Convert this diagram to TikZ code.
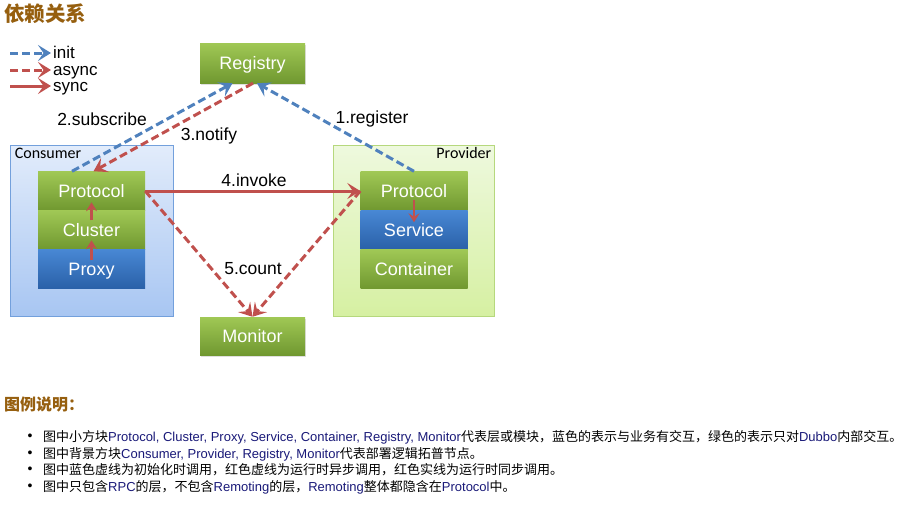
\documentclass[tikz,border=0pt]{standalone}
\usepackage{fontspec}
\setmainfont{Liberation Sans}
\newfontfamily\cjk{Noto Sans CJK SC}
\newfontfamily\calib{Carlito}
\usepackage{xcolor}
\definecolor{initblue}{RGB}{79,129,189}
\definecolor{callred}{RGB}{192,80,77}
\definecolor{greentop}{RGB}{160,200,85}
\definecolor{greenbot}{RGB}{112,152,48}
\definecolor{bluetop}{RGB}{72,136,212}
\definecolor{bluebot}{RGB}{42,96,168}
\definecolor{titlebrown}{RGB}{150,95,15}
\definecolor{navy}{RGB}{25,25,120}
\usepackage{tikz}
\usetikzlibrary{arrows.meta,positioning,calc,shadows}
\tikzset{
  layer/.style={minimum width=107pt,minimum height=39pt,inner sep=0pt,%
    text=white,font=\fontsize{18}{20}\selectfont,text height=12.9pt,text depth=0pt},
  greenlayer/.style={layer,top color=greentop,bottom color=greenbot},
  bluelayer/.style={layer,top color=bluetop,bottom color=bluebot},
  solo/.style={greenlayer,minimum width=105pt,%
    drop shadow={opacity=0.25,shadow xshift=1pt,shadow yshift=-2pt}},
  nodebox/.style={draw,line width=0.8pt,minimum height=171pt,inner sep=0pt},
  boxlabel/.style={font=\calib\fontsize{16}{18}\selectfont,inner sep=0pt},
  steplabel/.style={font=\fontsize{17.5}{20}\selectfont,inner sep=0pt},
  legendlabel/.style={anchor=base west,inner sep=0pt,font=\fontsize{17}{18}\selectfont},
  tip/.style={-{Stealth[length=13pt,width=16pt,inset=5.5pt]},line width=3pt},
  init/.style={tip,draw=initblue,dash pattern=on 8pt off 4pt},
  async/.style={tip,draw=callred,dash pattern=on 8pt off 4pt},
  sync/.style={tip,draw=callred},
  inner/.style={-{Stealth[length=9pt,width=11pt,inset=3.5pt]},line width=2.4pt,draw=callred},
  bullet/.style={anchor=west,inner sep=0pt,font=\fontsize{13}{15}\selectfont},
}
\newcommand{\entxt}[1]{{\color{navy}#1}}

\begin{document}
\begin{tikzpicture}[x=1pt,y=-1pt]
\useasboundingbox (0,0) rectangle (913,504);
% titles
\node[anchor=west,inner sep=0pt,text=titlebrown,font=\cjk\bfseries\fontsize{20.5}{22}\selectfont] (title) at (4,14) {依赖关系};
% legend
\node[legendlabel] (linit) at (53,58) {init};
\node[legendlabel] (lasync) at (53,75) {async};
\node[legendlabel] (lsync) at (53,91) {sync};
\coordinate (l1) at (10,53);
\coordinate (l2) at (10,70);
\coordinate (l3) at (10,86);
\draw[init] (l1) -- ([xshift=-2pt]linit.west|-l1);
\draw[async] (l2) -- ([xshift=-2pt]lasync.west|-l2);
\draw[sync] (l3) -- ([xshift=-2pt]lsync.west|-l3);

% deployment nodes
\node[nodebox,minimum width=163pt,draw={rgb,255:red,115;green,160;blue,220},%
  top color={rgb,255:red,226;green,236;blue,251},bottom color={rgb,255:red,168;green,198;blue,242}] (consumer) at (91.5,230.5) {};
\node[nodebox,minimum width=161pt,draw={rgb,255:red,182;green,216;blue,125},%
  top color={rgb,255:red,238;green,249;blue,222},bottom color={rgb,255:red,214;green,240;blue,162}] (provider) at (413.5,230.5) {};
\node[boxlabel,anchor=north west] (conslabel) at ([xshift=5pt,yshift=-3pt]consumer.north west) {Consumer};
\node[boxlabel,anchor=north east] (provlabel) at ([xshift=-3pt,yshift=-3pt]provider.north east) {Provider};

\node[solo,minimum height=40pt] (registry) at (252.5,63) {Registry};
\node[solo,minimum height=38pt] (monitor) at (252.5,336) {Monitor};

% consumer layers
\node[greenlayer] (cprotocol) at (91.5,191) {Protocol};
\node[greenlayer] (ccluster) at (91.5,230) {Cluster};
\node[bluelayer] (cproxy) at (91.5,269) {Proxy};
% provider layers
\node[greenlayer] (pprotocol) at (414,191) {Protocol};
\node[bluelayer] (pservice) at (414,230) {Service};
\node[greenlayer] (pcontainer) at (414,269) {Container};

\draw[inner] ([yshift=-11pt]cproxy.north) -- ([yshift=9pt]cproxy.north);
\draw[inner] ([yshift=-10pt]ccluster.north) -- ([yshift=8pt]ccluster.north);
\draw[inner] ([yshift=10pt]pservice.north) -- ([yshift=-12pt]pservice.north);

% calls
\draw[init] (pprotocol.north) -- ([xshift=4.5pt]registry.south);
\draw[init] ([xshift=-19.5pt]cprotocol.north) -- ([xshift=-20pt]registry.south);
\draw[async] ([xshift=0.5pt]registry.south) -- ([xshift=2pt]cprotocol.north);
\draw[sync] (cprotocol.east) -- (pprotocol.west);
\draw[async] (cprotocol.east) -- (monitor.north);
\draw[async] (pprotocol.west) -- (monitor.north);

\node[steplabel] (lregister) at (372,119) {1.register};
\node[steplabel] (lsubscribe) at (102,119) {2.subscribe};
\node[steplabel] (lnotify) at (209,136) {3.notify};
\node[steplabel] (linvoke) at (254,180) {4.invoke};
\node[steplabel] (lcount) at (253,269) {5.count};

% legend notes
\node[anchor=west,inner sep=0pt,text=titlebrown,font=\cjk\bfseries\fontsize{16}{17}\selectfont] (notes) at (4,404) {图例说明：};
\foreach \y in {437,454,470,487}
  \node[inner sep=0pt,font=\fontsize{14}{14}\selectfont] at (30,\y) {•};
\node[bullet] (n1) at (43,437) {{\cjk 图中小方块}\entxt{Protocol, Cluster, Proxy, Service, Container, Registry, Monitor}{\cjk 代表层或模块，蓝色的表示与业务有交互，绿色的表示只对}\entxt{Dubbo}{\cjk 内部交互。}};
\node[bullet] (n2) at (43,454) {{\cjk 图中背景方块}\entxt{Consumer, Provider, Registry, Monitor}{\cjk 代表部署逻辑拓普节点。}};
\node[bullet] (n3) at (43,470) {{\cjk 图中蓝色虚线为初始化时调用，红色虚线为运行时异步调用，红色实线为运行时同步调用。}};
\node[bullet] (n4) at (43,487) {{\cjk 图中只包含}\entxt{RPC}{\cjk 的层，不包含}\entxt{Remoting}{\cjk 的层，}\entxt{Remoting}{\cjk 整体都隐含在}\entxt{Protocol}{\cjk 中。}};
\end{tikzpicture}
\end{document}
